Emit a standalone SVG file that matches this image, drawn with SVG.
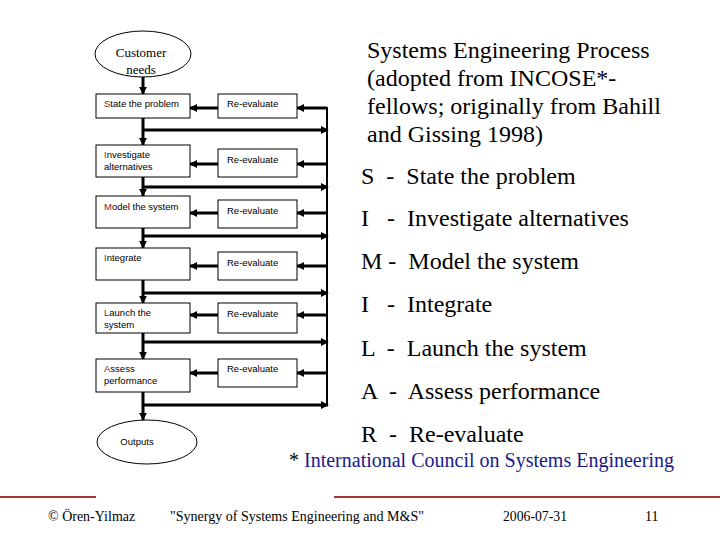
<svg xmlns="http://www.w3.org/2000/svg" width="720" height="540" viewBox="0 0 720 540">
<defs>
<style>
.box{fill:#fff;stroke:#000;stroke-width:1}
.ell{fill:#fff;stroke:#000;stroke-width:1}
.bt{font-family:"Liberation Sans",Arial,sans-serif;font-size:9.5px;fill:#000}
.hl{fill:#8b1a1a}
.et{font-family:"Liberation Serif","Times New Roman",serif;font-size:13px;fill:#000}
.big{font-family:"Liberation Serif","Times New Roman",serif;font-size:24px;fill:#000}
.fn{font-family:"Liberation Serif","Times New Roman",serif;font-size:20px;fill:#1a1a8c}
.ft{font-family:"Liberation Serif","Times New Roman",serif;font-size:14px;fill:#000}
.ca{stroke:#000;stroke-width:3;fill:none;marker-end:url(#ah)}
.rl{stroke:#a33;stroke-width:2}
</style>
<marker id="ah" viewBox="0 0 10 10" refX="9" refY="5" markerWidth="2.7" markerHeight="2.7" orient="auto" markerUnits="strokeWidth">
<path d="M0,0 L10,5 L0,10 z" fill="#000"/>
</marker>
</defs>

<g id="connectors">
<line class="ca" x1="143" y1="77" x2="143" y2="94"/>
<line class="ca" x1="143" y1="117" x2="143" y2="145"/>
<line class="ca" x1="143" y1="177" x2="143" y2="196"/>
<line class="ca" x1="143" y1="228" x2="143" y2="248"/>
<line class="ca" x1="143" y1="280" x2="143" y2="303"/>
<line class="ca" x1="143" y1="333" x2="143" y2="359"/>
<line class="ca" x1="143" y1="392" x2="143" y2="420"/>
<line class="ca" x1="143" y1="130" x2="328" y2="130"/>
<line class="ca" x1="143" y1="187" x2="328" y2="187"/>
<line class="ca" x1="143" y1="236" x2="328" y2="236"/>
<line class="ca" x1="143" y1="293" x2="328" y2="293"/>
<line class="ca" x1="143" y1="342" x2="328" y2="342"/>
<line class="ca" x1="143" y1="405" x2="328" y2="405"/>
<line x1="327" y1="107" x2="327" y2="406" stroke="#000" stroke-width="2"/>
<line class="ca" x1="327" y1="108" x2="297" y2="108"/>
<line class="ca" x1="327" y1="164" x2="297" y2="164"/>
<line class="ca" x1="327" y1="213" x2="297" y2="213"/>
<line class="ca" x1="327" y1="266" x2="297" y2="266"/>
<line class="ca" x1="327" y1="315" x2="297" y2="315"/>
<line class="ca" x1="327" y1="373" x2="297" y2="373"/>
<line class="ca" x1="218" y1="108" x2="190" y2="108"/>
<line class="ca" x1="218" y1="164" x2="190" y2="164"/>
<line class="ca" x1="218" y1="213" x2="190" y2="213"/>
<line class="ca" x1="218" y1="266" x2="190" y2="266"/>
<line class="ca" x1="218" y1="315" x2="190" y2="315"/>
<line class="ca" x1="218" y1="373" x2="190" y2="373"/>
</g>

<g id="customer-needs">
<ellipse class="ell" cx="143" cy="54" rx="48" ry="23"/>
<text class="et" x="141" y="57" text-anchor="middle">Customer</text>
<text class="et" x="141" y="74" text-anchor="middle">needs</text>
</g>

<g id="state">
<rect class="box" x="96" y="94" width="94" height="24"/>
<text class="bt" x="104" y="107"><tspan class="hl">S</tspan>tate the problem</text>
</g>
<g id="re1">
<rect class="box" x="218" y="94" width="79" height="24"/>
<text class="bt" x="227" y="107">Re-evaluate</text>
</g>

<g id="investigate">
<rect class="box" x="96" y="145" width="94" height="32"/>
<text class="bt" x="104" y="158"><tspan class="hl">I</tspan>nvestigate</text>
<text class="bt" x="104" y="170">alternatives</text>
</g>
<g id="re2">
<rect class="box" x="218" y="149" width="79" height="28"/>
<text class="bt" x="227" y="163">Re-evaluate</text>
</g>

<g id="model">
<rect class="box" x="96" y="196" width="94" height="32"/>
<text class="bt" x="104" y="210"><tspan class="hl">M</tspan>odel the system</text>
</g>
<g id="re3">
<rect class="box" x="218" y="200" width="79" height="28"/>
<text class="bt" x="227" y="214">Re-evaluate</text>
</g>

<g id="integrate">
<rect class="box" x="96" y="248" width="94" height="32"/>
<text class="bt" x="104" y="261"><tspan class="hl">I</tspan>ntegrate</text>
</g>
<g id="re4">
<rect class="box" x="218" y="252" width="79" height="28"/>
<text class="bt" x="227" y="266">Re-evaluate</text>
</g>

<g id="launch">
<rect class="box" x="96" y="303" width="94" height="30"/>
<text class="bt" x="104" y="316"><tspan class="hl">L</tspan>aunch the</text>
<text class="bt" x="104" y="328">system</text>
</g>
<g id="re5">
<rect class="box" x="218" y="303" width="79" height="30"/>
<text class="bt" x="227" y="317">Re-evaluate</text>
</g>

<g id="assess">
<rect class="box" x="96" y="359" width="94" height="33"/>
<text class="bt" x="104" y="372"><tspan class="hl">A</tspan>ssess</text>
<text class="bt" x="104" y="384">performance</text>
</g>
<g id="re6">
<rect class="box" x="218" y="359" width="79" height="28"/>
<text class="bt" x="227" y="372">Re-evaluate</text>
</g>

<g id="outputs">
<ellipse class="ell" cx="147" cy="442" rx="50" ry="22"/>
<text class="bt" x="137" y="445" text-anchor="middle">Outputs</text>
</g>

<g id="title">
<text class="big" x="367" y="58">Systems Engineering Process</text>
<text class="big" x="367" y="86">(adopted from INCOSE*-</text>
<text class="big" x="367" y="114">fellows; originally from Bahill</text>
<text class="big" x="367" y="142">and Gissing 1998)</text>
</g>

<g id="legend">
<text class="big" x="361" y="184" xml:space="preserve">S  -  State the problem</text>
<text class="big" x="361" y="226" xml:space="preserve">I   -  Investigate alternatives</text>
<text class="big" x="361" y="269" xml:space="preserve">M -  Model the system</text>
<text class="big" x="361" y="312" xml:space="preserve">I   -  Integrate</text>
<text class="big" x="361" y="356" xml:space="preserve">L  -  Launch the system</text>
<text class="big" x="361" y="399" xml:space="preserve">A  -  Assess performance</text>
<text class="big" x="361" y="442" xml:space="preserve">R  -  Re-evaluate</text>
</g>

<text class="fn" x="289" y="467"><tspan fill="#000">*</tspan> International Council on Systems Engineering</text>

<g id="footer">
<line class="rl" x1="0" y1="497" x2="96" y2="497"/>
<line class="rl" x1="334" y1="497" x2="720" y2="497"/>
<text class="ft" x="48" y="521">©  Ören-Yilmaz</text>
<text class="ft" x="170" y="521" textLength="254" lengthAdjust="spacingAndGlyphs">"Synergy of Systems Engineering and M&amp;S"</text>
<text class="ft" x="503" y="521" textLength="64" lengthAdjust="spacingAndGlyphs">2006-07-31</text>
<text class="ft" x="645" y="521">11</text>
</g>
</svg>
